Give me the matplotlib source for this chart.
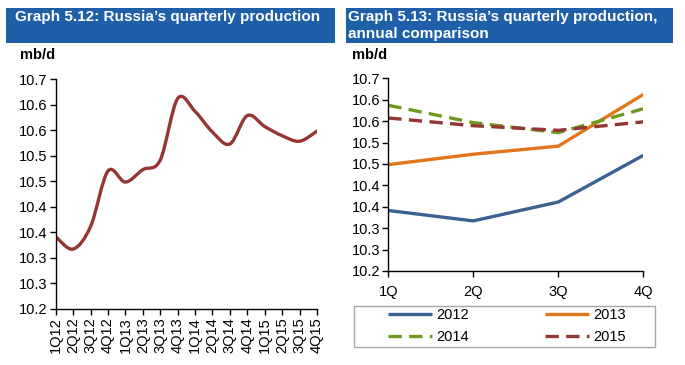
import matplotlib
matplotlib.use("Agg")
import matplotlib.pyplot as plt
from matplotlib.path import Path
from matplotlib.patches import PathPatch, Rectangle
import numpy as np

plt.rcParams['font.family'] = ['Liberation Sans', 'DejaVu Sans']

# quarterly production, mb/d
quarters = ['1Q12', '2Q12', '3Q12', '4Q12', '1Q13', '2Q13', '3Q13', '4Q13',
            '1Q14', '2Q14', '3Q14', '4Q14', '1Q15', '2Q15', '3Q15', '4Q15']
production = [10.357, 10.330, 10.379, 10.500, 10.476, 10.503, 10.524, 10.658,
              10.630, 10.585, 10.559, 10.621, 10.597, 10.577, 10.565, 10.587]
years = ['2012', '2013', '2014', '2015']
q_labels = ['1Q', '2Q', '3Q', '4Q']
y_ticks = list(np.linspace(10.2, 10.7, 10))

blue_band = '#1F5FA8'
red = '#943634'
colors = {'2012': '#3B6290', '2013': '#E2761B', '2014': '#6F9A1F', '2015': '#943634'}
dashed = {'2012': False, '2013': False, '2014': True, '2015': True}

W, H = 685, 365
FS = 10.5
fig = plt.figure(figsize=(W / 100, H / 100), dpi=100)


def fx(px):
    return px / W


def fy(py):
    return 1 - py / H


def smooth_path(xs, ys):
    # excel-style smoothed line: cardinal spline drawn as bezier segments
    pts = np.column_stack([xs, ys]).astype(float)
    verts = [pts[0]]
    codes = [Path.MOVETO]
    n = len(pts)
    for i in range(n - 1):
        p0 = pts[max(i - 1, 0)]
        p1 = pts[i]
        p2 = pts[i + 1]
        p3 = pts[min(i + 2, n - 1)]
        c1 = p1 + (p2 - p0) / 6
        c2 = p2 - (p3 - p1) / 6
        verts += [c1, c2, p2]
        codes += [Path.CURVE4] * 3
    return Path(verts, codes)


def style_axis(ax):
    for s in ['top', 'right']:
        ax.spines[s].set_visible(False)
    for s in ['left', 'bottom']:
        ax.spines[s].set_linewidth(1.0)
        ax.spines[s].set_color('black')
    ax.set_ylim(10.2, 10.7)
    ax.set_yticks(y_ticks)
    ax.set_yticklabels(['%.1f' % v for v in y_ticks], fontsize=FS)
    ax.tick_params(axis='both', direction='out', length=4, width=1, colors='black')
    ax.tick_params(axis='y', pad=2)


# title bands
fig.add_artist(Rectangle((fx(6), fy(43)), fx(335) - fx(6), fy(8) - fy(43),
                         transform=fig.transFigure, facecolor=blue_band, edgecolor='none'))
fig.add_artist(Rectangle((fx(346), fy(43)), fx(673) - fx(346), fy(8) - fy(43),
                         transform=fig.transFigure, facecolor=blue_band, edgecolor='none'))
fig.text(fx(15), fy(17.5), 'Graph 5.12: Russia\u2019s quarterly production', color='white',
         fontsize=11, fontweight='bold', va='center', ha='left')
fig.text(fx(348), fy(17), 'Graph 5.13: Russia\u2019s quarterly production,', color='white',
         fontsize=11, fontweight='bold', va='center', ha='left')
fig.text(fx(348), fy(34), 'annual comparison', color='white',
         fontsize=11, fontweight='bold', va='center', ha='left')
fig.text(fx(20), fy(55), 'mb/d', fontsize=FS, fontweight='bold', va='center', ha='left')
fig.text(fx(352), fy(55), 'mb/d', fontsize=FS, fontweight='bold', va='center', ha='left')

# left chart
ax1 = fig.add_axes([fx(55.7), fy(308.7), fx(317) - fx(55.7), fy(79.3) - fy(308.7)])
style_axis(ax1)
xs = np.arange(len(quarters))
ax1.add_patch(PathPatch(smooth_path(xs, production), fill=False, edgecolor=red,
                        linewidth=2.4, capstyle='round', joinstyle='round'))
ax1.set_xlim(0, len(quarters) - 1)
ax1.set_xticks(xs)
ax1.set_xticklabels(quarters, rotation=90, fontsize=FS)
ax1.tick_params(axis='x', pad=2)

# right chart
ax2 = fig.add_axes([fx(388.3), fy(271), fx(643.3) - fx(388.3), fy(78.3) - fy(271)])
style_axis(ax2)
handles = {}
for k, yr in enumerate(years):
    vals = production[4 * k:4 * k + 4]
    ls = (0, (4, 2.2)) if dashed[yr] else '-'
    line, = ax2.plot(range(4), vals, color=colors[yr], linewidth=2.4, linestyle=ls,
                     solid_capstyle='butt', dash_capstyle='butt', label=yr)
    handles[yr] = line
ax2.set_xlim(0, 3)
ax2.set_xticks(range(4))
ax2.set_xticklabels(q_labels, fontsize=FS)
ax2.tick_params(axis='x', pad=6)

# legend box
fig.add_artist(Rectangle((fx(354), fy(347)), fx(655) - fx(354), fy(306) - fy(347),
                         transform=fig.transFigure, facecolor='white',
                         edgecolor='#A6A6A6', linewidth=1.0))
order = ['2012', '2014', '2013', '2015']
fig.legend([handles[y] for y in order], order, loc='center', ncol=2,
           bbox_to_anchor=(fx(507), fy(326)), bbox_transform=fig.transFigure,
           frameon=False, fontsize=FS, handlelength=3.0, handletextpad=0.3,
           columnspacing=5.2, labelspacing=0.5)

fig.savefig('out.png', dpi=100)
